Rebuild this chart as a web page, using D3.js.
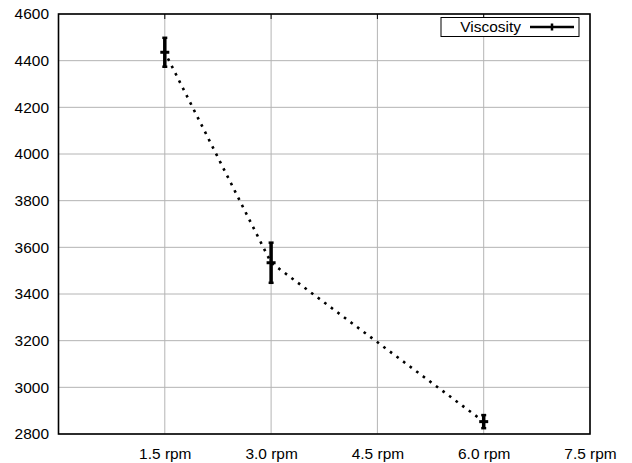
<!DOCTYPE html>
<html>
<head>
<meta charset="utf-8">
<script src="https://cdn.jsdelivr.net/npm/d3@7"></script>
<style>
  body { margin: 0; background: #fff; }
  text { font-family: 'Liberation Sans', Arial, sans-serif; }
</style>
</head>
<body>
<div id="chart"></div>
<script>
// data
var speeds = [1.5, 3.0, 6.0]
var viscosity = [4436, 3534, 2853]
var viscosityErr = [62, 86, 28]
var xTicks = [1.5, 3.0, 4.5, 6.0, 7.5]
var yTicks = [2800, 3000, 3200, 3400, 3600, 3800, 4000, 4200, 4400, 4600]
var seriesName = 'Viscosity'

var W = 632, H = 463
var margin = {top: 14, right: 42, bottom: 29, left: 58.5}
var width = W - margin.left - margin.right,
    height = H - margin.top - margin.bottom

// gnuplot-ish text is a bit wider than Arial
var stretch = 'scale(1.12,1)'

var x = d3.scaleLinear().domain([0, 7.5]).range([0, width])
var y = d3.scaleLinear().domain([2800, 4600]).range([height, 0])

var svg = d3.select('#chart').append('svg')
    .attr('width', W)
    .attr('height', H)
  .append('g')
    .attr('transform', 'translate(' + margin.left + ',' + margin.top + ')')

// grid
svg.append('g')
    .selectAll('line')
    .data(yTicks)
    .enter().append('line')
    .attr('x1', 0).attr('x2', width)
    .attr('y1', function(d) { return y(d) }).attr('y2', function(d) { return y(d) })
    .attr('stroke', '#b4b4b4').attr('stroke-width', 1)

svg.append('g')
    .selectAll('line')
    .data(xTicks)
    .enter().append('line')
    .attr('y1', 0).attr('y2', height)
    .attr('x1', function(d) { return x(d) }).attr('x2', function(d) { return x(d) })
    .attr('stroke', '#b4b4b4').attr('stroke-width', 1)

// axes
var xAxis = d3.axisBottom(x)
    .tickValues(xTicks)
    .tickFormat(function(d) { return d3.format('.1f')(d) + ' rpm' })
    .tickSize(0).tickPadding(15)
var yAxis = d3.axisLeft(y)
    .tickValues(yTicks)
    .tickSize(0).tickPadding(8.5)
    .tickFormat(d3.format('d'))

var gx = svg.append('g').attr('transform', 'translate(0,' + height + ')').call(xAxis)
var gy = svg.append('g').call(yAxis)
;[gx, gy].forEach(function(g) {
  g.select('.domain').remove()
  g.selectAll('text')
    .attr('font-size', '13.8px')
    .attr('font-family', "'Liberation Sans', Arial, sans-serif")
    .attr('fill', '#000')
    .attr('transform', stretch)
})
gy.selectAll('text').attr('dy', '0.36em')

// small inward ticks at the top edge
svg.append('g')
    .selectAll('line')
    .data(xTicks.slice(0, -1))
    .enter().append('line')
    .attr('x1', function(d) { return x(d) }).attr('x2', function(d) { return x(d) })
    .attr('y1', 0).attr('y2', 5)
    .attr('stroke', '#000').attr('stroke-width', 1)

// frame
svg.append('rect')
    .attr('width', width).attr('height', height)
    .attr('fill', 'none')
    .attr('stroke', '#000')
    .attr('stroke-width', 1.6)

var data = speeds.map(function(s, i) {
  return {x: s, y: viscosity[i], e: viscosityErr[i]}
})

// dotted connecting line
var line = d3.line()
    .x(function(d) { return x(d.x) })
    .y(function(d) { return y(d.y) })

svg.append('path')
    .datum(data)
    .attr('d', line)
    .attr('fill', 'none')
    .attr('stroke', '#000')
    .attr('stroke-width', 2.6)
    .attr('stroke-dasharray', '2.6,5.6')
    .attr('stroke-dashoffset', -7)

// error bars
var eb = svg.append('g').selectAll('g')
    .data(data)
    .enter().append('g')

eb.append('line')
    .attr('x1', function(d) { return x(d.x) }).attr('x2', function(d) { return x(d.x) })
    .attr('y1', function(d) { return y(d.y + d.e) }).attr('y2', function(d) { return y(d.y - d.e) })
    .attr('stroke', '#000').attr('stroke-width', 3.5)
eb.selectAll('line.cap')
    .data(function(d) { return [{x: d.x, v: d.y + d.e}, {x: d.x, v: d.y - d.e}] })
    .enter().append('line')
    .attr('class', 'cap')
    .attr('x1', function(c) { return x(c.x) - 2.5 })
    .attr('x2', function(c) { return x(c.x) + 2.5 })
    .attr('y1', function(c) { return y(c.v) }).attr('y2', function(c) { return y(c.v) })
    .attr('stroke', '#000').attr('stroke-width', 2.5)
eb.append('line')
    .attr('x1', function(d) { return x(d.x) - 4.5 }).attr('x2', function(d) { return x(d.x) + 4.5 })
    .attr('y1', function(d) { return y(d.y) }).attr('y2', function(d) { return y(d.y) })
    .attr('stroke', '#000').attr('stroke-width', 3)

// legend
var lg = svg.append('g').attr('transform', 'translate(' + (441 - margin.left) + ',' + (17.5 - margin.top) + ')')
lg.append('rect')
    .attr('width', 138).attr('height', 19)
    .attr('fill', '#fff')
    .attr('stroke', '#000').attr('stroke-width', 1)
lg.append('text')
    .attr('x', 80 / 1.12).attr('y', 14.5)
    .attr('text-anchor', 'end')
    .attr('font-size', '13.8px')
    .attr('transform', stretch)
    .text(seriesName)
lg.append('line')
    .attr('x1', 89).attr('x2', 133).attr('y1', 9.5).attr('y2', 9.5)
    .attr('stroke', '#000').attr('stroke-width', 2.5)
lg.append('line')
    .attr('x1', 111).attr('x2', 111).attr('y1', 6).attr('y2', 13)
    .attr('stroke', '#000').attr('stroke-width', 2.5)
</script>
</body>
</html>
